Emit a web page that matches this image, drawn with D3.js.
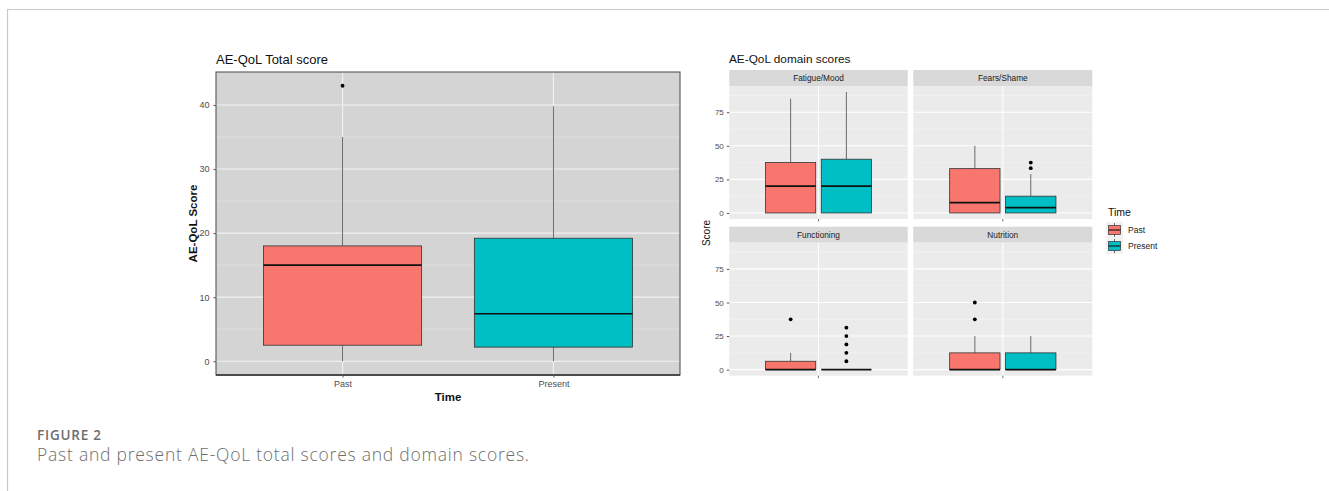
<!DOCTYPE html>
<html>
<head>
<meta charset="utf-8">
<script src="https://cdn.jsdelivr.net/npm/d3@7"></script>
<style>
  html, body { margin: 0; padding: 0; background: #fff; }
  svg { display: block; }
</style>
</head>
<body>
<svg id="fig" width="1329" height="491"></svg>
<script>
// ---- data -------------------------------------------------------------
const times = ["Past", "Present"];
const timeColors = ["#F8766D", "#00BFC4"];

// AE-QoL total score, box-plot statistics per time point
const totalLow    = [0, 0];
const totalQ1     = [2.5, 2.2];
const totalMedian = [15, 7.4];
const totalQ3     = [18, 19.2];
const totalHigh   = [35, 39.8];
const totalOutliers = [[43], []];
const totalTicks = [0, 10, 20, 30, 40];

// AE-QoL domain scores, [Past, Present] per domain
const domains = ["Fatigue/Mood", "Fears/Shame", "Functioning", "Nutrition"];
const domainLow    = [[0, 0], [0, 0], [0, 0], [0, 0]];
const domainQ1     = [[0, 0], [0, 0], [0, 0], [0, 0]];
const domainMedian = [[20, 20], [7.7, 4], [0, 0], [0, 0]];
const domainQ3     = [[37.5, 40], [33, 12.5], [6.25, 0], [12.5, 12.5]];
const domainHigh   = [[85, 90], [50, 29], [12.5, 0], [25, 25]];
const domainOutliers = [
  [[], []],
  [[], [33.3, 37.5]],
  [[37.5], [6.25, 12.5, 18.75, 25, 31.25]],
  [[37.5, 50], []]
];
const domainTicks = [0, 25, 50, 75];

// ---- drawing helpers ---------------------------------------------------
const svg = d3.select("#fig");
const FONT = "'Liberation Sans', Arial, Helvetica, sans-serif";
const CAPTION_FONT = "'Open Sans', 'Noto Sans', sans-serif";

function drawBox(g, xc, w, y, s, fill) {
  // whiskers
  g.append("line").attr("x1", xc).attr("x2", xc)
    .attr("y1", y(s.q3)).attr("y2", y(s.high))
    .attr("stroke", "#333").attr("stroke-width", 0.7);
  g.append("line").attr("x1", xc).attr("x2", xc)
    .attr("y1", y(s.q1)).attr("y2", y(s.low))
    .attr("stroke", "#333").attr("stroke-width", 0.7);
  // box
  g.append("rect")
    .attr("x", xc - w / 2).attr("width", w)
    .attr("y", y(s.q3)).attr("height", Math.max(0, y(s.q1) - y(s.q3)))
    .attr("fill", fill).attr("stroke", "#333").attr("stroke-width", 0.8);
  // median
  g.append("line").attr("x1", xc - w / 2).attr("x2", xc + w / 2)
    .attr("y1", y(s.median)).attr("y2", y(s.median))
    .attr("stroke", "#111").attr("stroke-width", 1.6);
  // outliers
  g.selectAll(null).data(s.outliers).enter().append("circle")
    .attr("cx", xc).attr("cy", d => y(d)).attr("r", 1.9).attr("fill", "#000");
}

// ---- figure frame & caption ---------------------------------------------
svg.append("path").attr("d", "M7.5,491 V9.5 H1329")
  .attr("fill", "none").attr("stroke", "#c8c8c8").attr("stroke-width", 1.2);
svg.append("text").attr("x", 37).attr("y", 440)
  .attr("font-family", CAPTION_FONT).attr("font-size", 13.5).attr("font-weight", 600)
  .attr("textLength", 64).attr("lengthAdjust", "spacing")
  .attr("fill", "#6e6e6e").text("FIGURE 2");
svg.append("text").attr("x", 37).attr("y", 461)
  .attr("font-family", CAPTION_FONT).attr("font-size", 17.5).attr("font-weight", 300)
  .attr("textLength", 492).attr("lengthAdjust", "spacing")
  .attr("fill", "#6e6e6e").text("Past and present AE-QoL total scores and domain scores.");

// ---- left: total score -------------------------------------------------
{
  const L = { x0: 216, x1: 680, y0: 72, y1: 375 };
  const y = d3.scaleLinear().domain([-2.15, 45.15]).range([L.y1, L.y0]);
  const x = d3.scaleLinear().domain([0.4, 2.6]).range([L.x0, L.x1]);
  const g = svg.append("g");

  g.append("rect").attr("x", L.x0).attr("y", L.y0)
    .attr("width", L.x1 - L.x0).attr("height", L.y1 - L.y0).attr("fill", "#d4d4d4");

  const minor = d3.range(5, 45, 10);
  g.selectAll(null).data(minor).enter().append("line")
    .attr("x1", L.x0).attr("x2", L.x1).attr("y1", d => y(d)).attr("y2", d => y(d))
    .attr("stroke", "#e6e6e6").attr("stroke-width", 0.6);
  g.selectAll(null).data(totalTicks).enter().append("line")
    .attr("x1", L.x0).attr("x2", L.x1).attr("y1", d => y(d)).attr("y2", d => y(d))
    .attr("stroke", "#f2f2f2").attr("stroke-width", 1.1);
  g.selectAll(null).data(times).enter().append("line")
    .attr("x1", (d, i) => x(i + 1)).attr("x2", (d, i) => x(i + 1))
    .attr("y1", L.y0).attr("y2", L.y1)
    .attr("stroke", "#f2f2f2").attr("stroke-width", 1.1);

  times.forEach((t, i) => {
    drawBox(g, x(i + 1), 0.75 * (x(1) - x(0)), y, {
      low: totalLow[i], q1: totalQ1[i], median: totalMedian[i],
      q3: totalQ3[i], high: totalHigh[i], outliers: totalOutliers[i]
    }, timeColors[i]);
  });

  g.append("rect").attr("x", L.x0).attr("y", L.y0)
    .attr("width", L.x1 - L.x0).attr("height", L.y1 - L.y0)
    .attr("fill", "none").attr("stroke", "#555").attr("stroke-width", 1.1);
  g.append("line").attr("x1", L.x0).attr("x2", L.x1).attr("y1", L.y1).attr("y2", L.y1)
    .attr("stroke", "#333").attr("stroke-width", 1.6);

  // axes
  const ya = d3.axisLeft(y).tickValues(totalTicks).tickSize(2.5).tickPadding(4);
  const yg = g.append("g").attr("transform", `translate(${L.x0},0)`).call(ya);
  const xs = d3.scalePoint().domain(times).range([x(1), x(2)]);
  const xa = d3.axisBottom(xs).tickSize(2.5).tickPadding(3);
  const xg = g.append("g").attr("transform", `translate(0,${L.y1})`).call(xa);
  [yg, xg].forEach(a => {
    a.select(".domain").remove();
    a.selectAll(".tick line").attr("stroke", "#555");
    a.selectAll("text").attr("font-family", FONT).attr("font-size", 9).attr("fill", "#4d4d4d");
  });

  g.append("text").attr("x", L.x0).attr("y", 64)
    .attr("font-family", FONT).attr("font-size", 13).attr("fill", "#111").text("AE-QoL Total score");
  g.append("text").attr("x", (L.x0 + L.x1) / 2).attr("y", 401).attr("text-anchor", "middle")
    .attr("font-family", FONT).attr("font-size", 11.5).attr("font-weight", "bold")
    .attr("fill", "#111").text("Time");
  g.append("text").attr("transform", `translate(197,${(L.y0 + L.y1) / 2}) rotate(-90)`)
    .attr("text-anchor", "middle")
    .attr("font-family", FONT).attr("font-size", 11.5).attr("font-weight", "bold")
    .attr("fill", "#111").text("AE-QoL Score");
}

// ---- right: domain scores facets ----------------------------------------
{
  const cols = [[729.3, 907.7], [913.3, 1092.3]];
  const rows = [{ s0: 70, p0: 86, p1: 219 }, { s0: 226.7, p0: 242.7, p1: 375.7 }];
  const g = svg.append("g");

  domains.forEach((dname, k) => {
    const c = cols[k % 2], r = rows[Math.floor(k / 2)];
    const x = d3.scaleLinear().domain([0.4, 1.6]).range(c);
    const y = d3.scaleLinear().domain([-4.5, 94.5]).range([r.p1, r.p0]);
    const pg = g.append("g");

    // strip
    pg.append("rect").attr("x", c[0]).attr("y", r.s0)
      .attr("width", c[1] - c[0]).attr("height", r.p0 - r.s0).attr("fill", "#d9d9d9");
    pg.append("text").attr("x", (c[0] + c[1]) / 2).attr("y", r.s0 + 11)
      .attr("text-anchor", "middle").attr("font-family", FONT).attr("font-size", 8.3)
      .attr("fill", "#1a1a1a").text(dname);

    // panel
    pg.append("rect").attr("x", c[0]).attr("y", r.p0)
      .attr("width", c[1] - c[0]).attr("height", r.p1 - r.p0).attr("fill", "#ebebeb");
    const minor = d3.range(12.5, 94, 25);
    pg.selectAll(null).data(minor).enter().append("line")
      .attr("x1", c[0]).attr("x2", c[1]).attr("y1", d => y(d)).attr("y2", d => y(d))
      .attr("stroke", "#f5f5f5").attr("stroke-width", 0.6);
    pg.selectAll(null).data(domainTicks).enter().append("line")
      .attr("x1", c[0]).attr("x2", c[1]).attr("y1", d => y(d)).attr("y2", d => y(d))
      .attr("stroke", "#fff").attr("stroke-width", 1.1);
    pg.append("line").attr("x1", x(1)).attr("x2", x(1)).attr("y1", r.p0).attr("y2", r.p1)
      .attr("stroke", "#fff").attr("stroke-width", 1.1);

    const dodge = 0.75 / 2;
    times.forEach((t, i) => {
      const xc = x(1 + (i - 0.5) * dodge);
      drawBox(pg, xc, dodge * 0.9 * (x(1) - x(0)), y, {
        low: domainLow[k][i], q1: domainQ1[k][i], median: domainMedian[k][i],
        q3: domainQ3[k][i], high: domainHigh[k][i], outliers: domainOutliers[k][i]
      }, timeColors[i]);
    });

    // x tick (unlabelled)
    pg.append("line").attr("x1", x(1)).attr("x2", x(1)).attr("y1", r.p1).attr("y2", r.p1 + 2.5)
      .attr("stroke", "#555").attr("stroke-width", 0.8);

    if (k % 2 === 0) {
      const ya = d3.axisLeft(y).tickValues(domainTicks).tickSize(2.5).tickPadding(3);
      const yg = pg.append("g").attr("transform", `translate(${c[0]},0)`).call(ya);
      yg.select(".domain").remove();
      yg.selectAll(".tick line").attr("stroke", "#555");
      yg.selectAll("text").attr("font-family", FONT).attr("font-size", 8).attr("fill", "#4d4d4d");
    }
  });

  g.append("text").attr("x", 729).attr("y", 63)
    .attr("font-family", FONT).attr("font-size", 11.8).attr("fill", "#111").text("AE-QoL domain scores");
  g.append("text").attr("transform", "translate(710,233) rotate(-90)").attr("text-anchor", "middle")
    .attr("font-family", FONT).attr("font-size", 10).attr("fill", "#111").text("Score");

  // legend
  const lg = g.append("g");
  lg.append("text").attr("x", 1108).attr("y", 216)
    .attr("font-family", FONT).attr("font-size", 10.5).attr("fill", "#111").text("Time");
  times.forEach((t, i) => {
    const cy = 230 + i * 16;
    lg.append("rect").attr("x", 1106).attr("y", cy - 8).attr("width", 17).attr("height", 16).attr("fill", "#f2f2f2");
    lg.append("line").attr("x1", 1114.5).attr("x2", 1114.5).attr("y1", cy - 7).attr("y2", cy + 7)
      .attr("stroke", "#333").attr("stroke-width", 0.7);
    lg.append("rect").attr("x", 1108.5).attr("y", cy - 4.5).attr("width", 12).attr("height", 9)
      .attr("fill", timeColors[i]).attr("stroke", "#333").attr("stroke-width", 0.7);
    lg.append("line").attr("x1", 1108.5).attr("x2", 1120.5).attr("y1", cy).attr("y2", cy)
      .attr("stroke", "#111").attr("stroke-width", 1.1);
    lg.append("text").attr("x", 1128).attr("y", cy + 3)
      .attr("font-family", FONT).attr("font-size", 8.5).attr("fill", "#1a1a1a").text(t);
  });
}
</script>
</body>
</html>
